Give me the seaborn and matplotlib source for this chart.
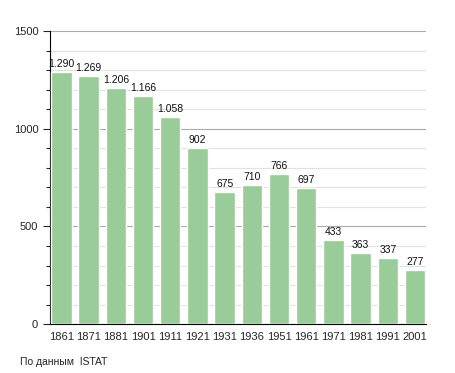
import pandas as pd
import numpy as np
import matplotlib.pyplot as plt
import seaborn as sns
from matplotlib.ticker import MultipleLocator

years = ['1861', '1871', '1881', '1901', '1911', '1921', '1931',
         '1936', '1951', '1961', '1971', '1981', '1991', '2001']
population = [1290, 1269, 1206, 1166, 1058, 902, 675,
              710, 766, 697, 433, 363, 337, 277]
value_labels = ['1.290', '1.269', '1.206', '1.166', '1.058', '902', '675',
                '710', '766', '697', '433', '363', '337', '277']

sns.set_style("white")
plt.rcParams['font.family'] = ['Liberation Sans', 'DejaVu Sans']

df = pd.DataFrame({'year': years, 'pop': population})

fig = plt.figure(figsize=(4.55, 3.73), dpi=100)
ax = fig.add_axes([0.11, 0.131, 0.826, 0.786])

sns.barplot(data=df, x='year', y='pop', color='#99cc99', saturation=1,
            width=0.75, ax=ax, zorder=3)

for i, (v, lab) in enumerate(zip(population, value_labels)):
    ax.text(i, v + 15, lab, ha='center', va='bottom', fontsize=7.5, color='#111111')

ax.set_ylim(0, 1500)
ax.set_xlim(-0.42, 13.4)
ax.yaxis.set_major_locator(MultipleLocator(500))
ax.yaxis.set_minor_locator(MultipleLocator(100))
ax.grid(which='major', axis='y', color='#aaaaaa', linewidth=0.8, zorder=0)
ax.grid(which='minor', axis='y', color='#e2e2e2', linewidth=0.8, zorder=0)
ax.set_axisbelow(True)

for s in ['top', 'right']:
    ax.spines[s].set_visible(False)
ax.spines['left'].set_color('black')
ax.spines['bottom'].set_color('black')
ax.tick_params(axis='y', which='major', left=True, length=5, width=0.8, labelsize=8)
ax.tick_params(axis='y', which='minor', left=True, length=3, width=0.8)
ax.tick_params(axis='x', bottom=False, labelsize=8, pad=2)
ax.set_xlabel('')
ax.set_ylabel('')

fig.text(0.044, 0.03, 'По данным  ISTAT', fontsize=7.5, ha='left', va='center')

fig.savefig('out.png', dpi=100)
